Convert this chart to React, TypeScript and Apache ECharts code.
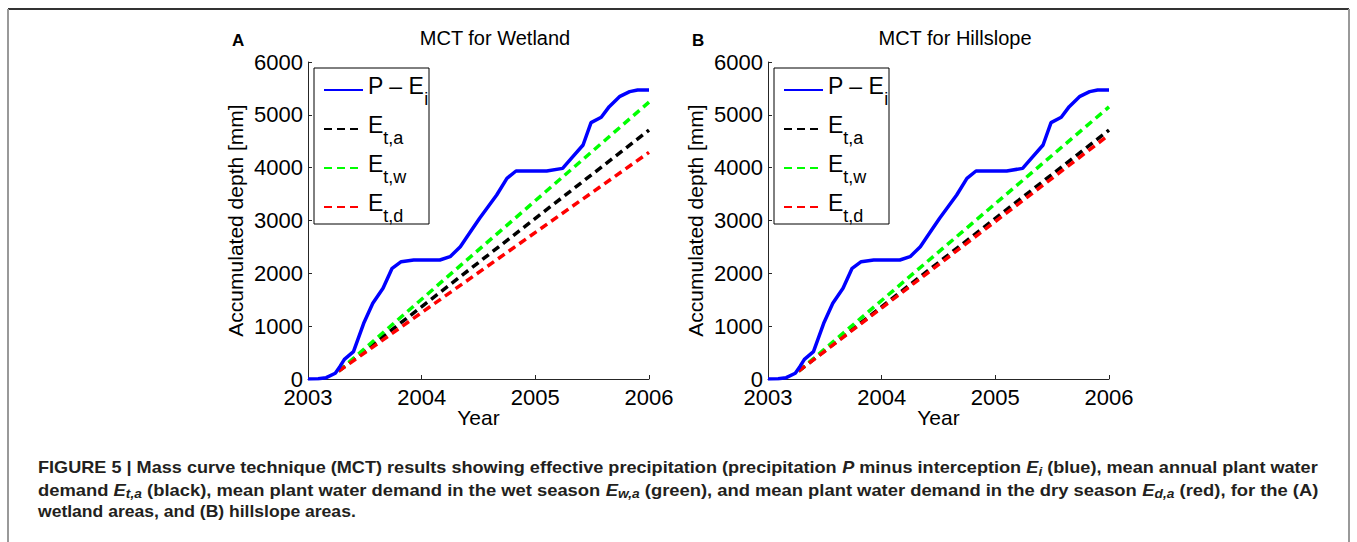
import React, { useEffect, useRef } from 'react';
import * as echarts from 'echarts';

// ---- data ----
const xTickYears = [2003, 2004, 2005, 2006];
const yTickValues = [0, 1000, 2000, 3000, 4000, 5000, 6000];

// effective precipitation P - Ei (same for both panels)
const blueYears = [2003.0, 2003.09, 2003.16, 2003.24, 2003.28, 2003.32, 2003.4, 2003.49, 2003.57, 2003.66, 2003.74, 2003.82, 2003.93, 2004.16, 2004.25, 2004.34, 2004.42, 2004.51, 2004.66, 2004.75, 2004.83, 2005.1, 2005.24, 2005.33, 2005.42, 2005.49, 2005.58, 2005.65, 2005.74, 2005.83, 2005.9, 2006.0];
const blueValues = [0, 3, 25, 108, 233, 372, 517, 1054, 1432, 1716, 2095, 2221, 2252, 2252, 2315, 2505, 2757, 3041, 3483, 3798, 3937, 3937, 3987, 4208, 4429, 4852, 4953, 5155, 5344, 5439, 5470, 5470];

// demand lines: start and end
const demandYears = [2003.27, 2006.0];
const wetlandEta = [150, 4710];
const wetlandEtw = [150, 5240];
const wetlandEtd = [150, 4290];
const hillEta = [150, 4710];
const hillEtw = [150, 5150];
const hillEtd = [150, 4620];

const panelTitles = ['MCT for Wetland', 'MCT for Hillslope'];
const panelLetters = ['A', 'B'];
const seriesNames = ['P – Ei', 'Et,a', 'Et,w', 'Et,d'];
const legendLabels: Record<string, string> = {
  'P – Ei': '{m|P – E}{s|i}',
  'Et,a': '{m|E}{s|t,a}',
  'Et,w': '{m|E}{s|t,w}',
  'Et,d': '{m|E}{s|t,d}',
};

const FONT = '"Liberation Sans", Arial, Helvetica, sans-serif';
const CAP_FONT = '"Liberation Sans Narrow", "Liberation Sans", Arial, sans-serif';

type Tok = [string, string];
const captionLines: Tok[][] = [
  [
    ['b', 'FIGURE 5 | Mass curve technique (MCT) results showing effective precipitation (precipitation '],
    ['bi', 'P'],
    ['b', ' minus interception '],
    ['bi', 'E'],
    ['bs', 'i'],
    ['b', ' (blue), mean annual plant water'],
  ],
  [
    ['b', 'demand '],
    ['bi', 'E'],
    ['bs', 't,a'],
    ['b', ' (black), mean plant water demand in the wet season '],
    ['bi', 'E'],
    ['bs', 'w,a'],
    ['b', ' (green), and mean plant water demand in the dry season '],
    ['bi', 'E'],
    ['bs', 'd,a'],
    ['b', ' (red), for the (A)'],
  ],
  [['b', 'wetland areas, and (B) hillslope areas.']],
];
const captionWidths = [1280, 1281, 318];

const CAP_SIZE = 16;
const CAP_SUB = 12;

function tokFont(style: string) {
  if (style === 'b') return `bold ${CAP_SIZE}px ${CAP_FONT}`;
  if (style === 'bi') return `italic bold ${CAP_SIZE}px ${CAP_FONT}`;
  return `italic bold ${CAP_SUB}px ${CAP_FONT}`;
}

function measureLine(tokens: Tok[]) {
  const ctx = document.createElement('canvas').getContext('2d');
  if (!ctx) return 1;
  let w = 0;
  for (const [s, t] of tokens) {
    ctx.font = tokFont(s);
    w += ctx.measureText(t).width;
  }
  return w;
}

const grids = [
  { left: 308, top: 62, width: 341, height: 317 },
  { left: 768, top: 62, width: 341, height: 317 },
];

export default function App() {
  const ref = useRef<HTMLDivElement>(null);

  useEffect(() => {
    if (!ref.current) return;
    const chart = echarts.init(ref.current, null, { renderer: 'svg' });

    const axisLine = { show: true, lineStyle: { color: '#262626', width: 1 } };
    const xAxes = grids.map((_, i) => ({
      type: 'value',
      gridIndex: i,
      min: xTickYears[0],
      max: xTickYears[xTickYears.length - 1],
      interval: 1,
      axisLine,
      axisTick: { show: true, inside: true, length: 4, lineStyle: { color: '#262626' } },
      splitLine: { show: false },
      axisLabel: { fontSize: 22, color: '#000', fontFamily: FONT, margin: 7, formatter: (v: number) => String(v) },
      name: 'Year',
      nameLocation: 'middle',
      nameGap: 28,
      nameMoveOverlap: false,
      nameTextStyle: { fontSize: 21, color: '#000', fontFamily: FONT },
    }));
    const yAxes = grids.map((_, i) => ({
      type: 'value',
      gridIndex: i,
      min: yTickValues[0],
      max: yTickValues[yTickValues.length - 1],
      interval: 1000,
      axisLine,
      axisTick: { show: true, inside: true, length: 4, lineStyle: { color: '#262626' } },
      splitLine: { show: false },
      axisLabel: { fontSize: 22, color: '#000', fontFamily: FONT, margin: 5, formatter: (v: number) => String(v) },
      name: 'Accumulated depth [mm]',
      nameLocation: 'middle',
      nameGap: 62,
      nameMoveOverlap: false,
      nameTextStyle: { fontSize: 21, color: '#000', fontFamily: FONT },
    }));

    const dash = [8, 5];
    const mk = (name: string, idx: number, xs: number[], ys: number[], color: string, dashed: boolean) => ({
      type: 'line',
      name,
      xAxisIndex: idx,
      yAxisIndex: idx,
      data: xs.map((x, k) => [x, ys[k]]),
      showSymbol: false,
      symbol: 'none',
      lineStyle: { color, width: 3.5, type: dashed ? dash : 'solid' },
      itemStyle: { color },
      z: dashed ? 3 : 4,
    });

    const series: any[] = [];
    const panelDemand = [
      [wetlandEta, wetlandEtw, wetlandEtd],
      [hillEta, hillEtw, hillEtd],
    ];
    grids.forEach((_, i) => {
      series.push(mk(seriesNames[0], i, blueYears, blueValues, '#0000ff', false));
      series.push(mk(seriesNames[1], i, demandYears, panelDemand[i][0], '#000000', true));
      series.push(mk(seriesNames[2], i, demandYears, panelDemand[i][1], '#00ff00', true));
      series.push(mk(seriesNames[3], i, demandYears, panelDemand[i][2], '#ff0000', true));
    });

    const legends = grids.map((g) => ({
      orient: 'vertical',
      left: g.left + 15,
      top: 72,
      padding: 0,
      itemWidth: 39,
      itemHeight: 10,
      itemGap: 3,
      selectedMode: false,
      data: seriesNames,
      z: 10,
      itemStyle: { opacity: 0, borderWidth: 0 },
      formatter: (n: string) => legendLabels[n],
      textStyle: {
        color: '#000',
        fontFamily: FONT,
        rich: {
          m: { fontSize: 23, lineHeight: 23, padding: [0, 0, 8, 0], fontFamily: FONT, color: '#000' },
          s: { fontSize: 18, lineHeight: 18, padding: [18, 0, 0, 0], fontFamily: FONT, color: '#000' },
        },
      },
    }));

    const graphic: any[] = [];
    // frame
    graphic.push({ type: 'line', shape: { x1: 8, y1: 9, x2: 1349, y2: 9 }, style: { stroke: '#333', lineWidth: 2 }, silent: true });
    graphic.push({ type: 'line', shape: { x1: 8, y1: 9, x2: 8, y2: 542 }, style: { stroke: '#999', lineWidth: 2 }, silent: true });
    graphic.push({ type: 'line', shape: { x1: 1349, y1: 9, x2: 1349, y2: 542 }, style: { stroke: '#999', lineWidth: 2 }, silent: true });

    grids.forEach((g, i) => {
      // legend box
      graphic.push({
        type: 'rect',
        shape: { x: g.left + 6, y: 68, width: 115, height: 156 },
        style: { fill: '#fff', stroke: '#000', lineWidth: 1 },
        z: 5,
        silent: true,
      });
      graphic.push({
        type: 'text',
        x: g.left + g.width / 2 + 16.5,
        y: 38,
        style: { text: panelTitles[i], fontSize: 20, fontFamily: FONT, fill: '#000', textAlign: 'center', textVerticalAlign: 'middle' },
        silent: true,
      });
      graphic.push({
        type: 'text',
        x: g.left - 76,
        y: 40,
        style: { text: panelLetters[i], fontSize: 17, fontWeight: 'bold', fontFamily: FONT, fill: '#000', textAlign: 'left', textVerticalAlign: 'middle' },
        silent: true,
      });
    });

    captionLines.forEach((tokens, li) => {
      const natural = measureLine(tokens);
      const sx = captionWidths[li] / natural;
      graphic.push({
        type: 'text',
        x: 38,
        y: 468 + li * 22,
        scaleX: sx,
        silent: true,
        style: {
          text: tokens.map(([s, t]) => `{${s}|${t}}`).join(''),
          textAlign: 'left',
          textVerticalAlign: 'middle',
          rich: {
            b: { fontSize: CAP_SIZE, lineHeight: CAP_SIZE, fontWeight: 'bold', fontFamily: CAP_FONT, fill: '#231f20', color: '#231f20' },
            bi: { fontSize: CAP_SIZE, lineHeight: CAP_SIZE, fontWeight: 'bold', fontStyle: 'italic', fontFamily: CAP_FONT, fill: '#231f20', color: '#231f20' },
            bs: { fontSize: CAP_SUB, lineHeight: CAP_SUB, fontWeight: 'bold', fontStyle: 'italic', fontFamily: CAP_FONT, padding: [8, 0, 0, 0], fill: '#231f20', color: '#231f20' },
          },
        },
      });
    });

    chart.setOption({
      animation: false,
      backgroundColor: '#fff',
      textStyle: { fontFamily: FONT },
      grid: grids.map((g) => ({ ...g, containLabel: false })),
      xAxis: xAxes,
      yAxis: yAxes,
      legend: legends,
      series,
      graphic,
    });

    return () => chart.dispose();
  }, []);

  return (
    <div
      ref={ref}
      style={{ position: 'fixed', left: 0, top: 0, width: 1357, height: 542, background: '#fff' }}
    />
  );
}
